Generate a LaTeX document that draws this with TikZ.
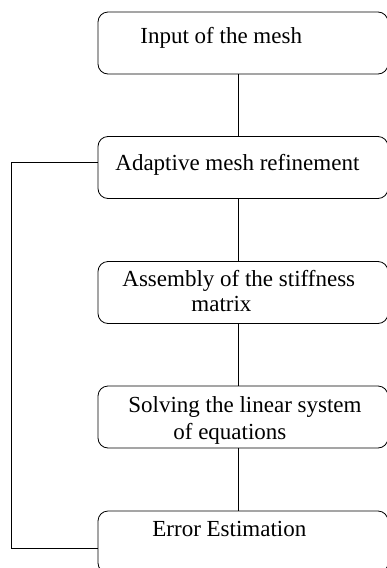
\documentclass[tikz,border=0pt]{standalone}
\usepackage{fontspec}
\setmainfont{Liberation Serif}
\usetikzlibrary{positioning}

\begin{document}
\begin{tikzpicture}[x=1pt, y=-1pt, line width=0.8pt,
every node/.style={inner sep=0pt},
stage/.style={draw, rounded corners=10pt, minimum width=290pt, minimum height=62pt},
caption/.style={font=\fontsize{23}{24.5}\selectfont, anchor=base west, align=left}]

\useasboundingbox (0,0) rectangle (387,568);
\clip (0,0) rectangle (387,568);

% boxes
\path
(243,43) node[stage] (s1) {}
(243,167.5) node[stage] (s2) {}
(243,292.5) node[stage] (s3) {}
(243,417) node[stage] (s4) {}
(243,542) node[stage] (s5) {}
;

% texts
\path
(140,43) node[caption] (t1) {Input of the mesh}
(115,170) node[caption] (t2) {Adaptive mesh refinement}
(122,311) node[caption] (t3) {Assembly of the stiffness\\\hspace*{69pt}matrix}
(128,439) node[caption] (t4) {Solving the linear system\\[2.5pt]\hspace*{45pt}of equations}
(152,536) node[caption] (t5) {Error Estimation}
;

% flow
\draw ([xshift=-5pt]s1.south) -- ([xshift=-5pt]s2.north);
\draw ([xshift=-5pt]s2.south) -- ([xshift=-5pt]s3.north);
\draw ([xshift=-5pt]s3.south) -- ([xshift=-5pt]s4.north);
\draw ([xshift=-5pt]s4.south) -- ([xshift=-5pt]s5.north);
\draw ([yshift=-6pt]s5.west) -- ++(-86,0) |- ([yshift=5pt]s2.west);

\end{tikzpicture}
\end{document}
